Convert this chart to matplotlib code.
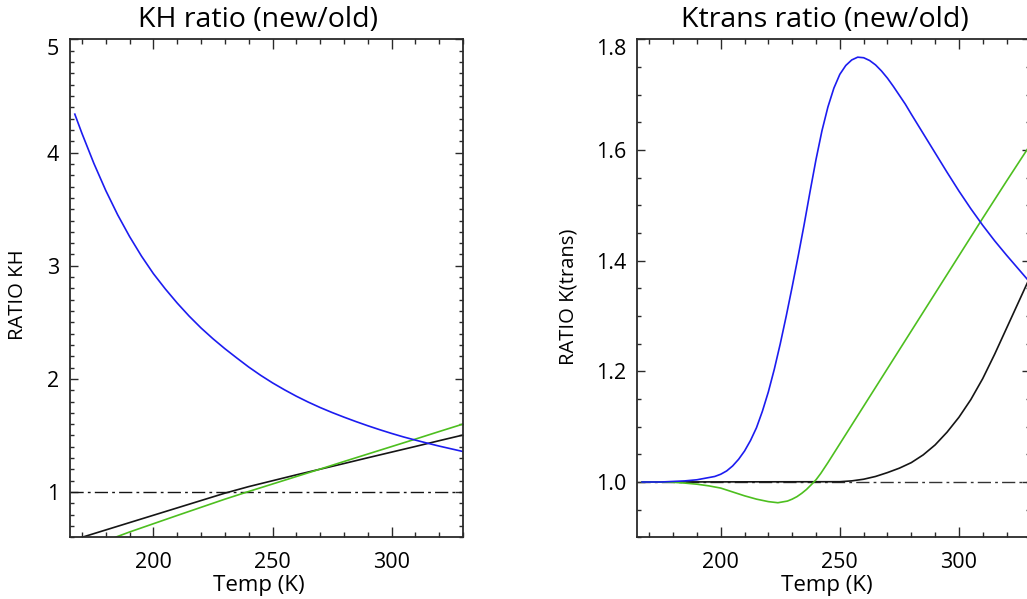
import matplotlib
matplotlib.use('Agg')
import matplotlib.pyplot as plt
from matplotlib.ticker import MultipleLocator

plt.rcParams['font.family'] = ['Open Sans', 'DejaVu Sans']

# ---- KH ratio (new/old) ----
kh_temp_blue = [167, 170, 175, 180, 185, 190, 195, 200, 205, 210, 215, 220, 225, 230,
                235, 240, 245, 250, 255, 260, 265, 270, 275, 280, 285, 290, 295, 300,
                305, 310, 315, 320, 325, 330]
kh_blue = [4.34, 4.17, 3.905, 3.665, 3.45, 3.258, 3.085, 2.93, 2.795, 2.67, 2.555, 2.45, 2.355, 2.267,
           2.185, 2.105, 2.032, 1.965, 1.904, 1.847, 1.795, 1.747, 1.703, 1.662, 1.623, 1.586, 1.551, 1.518,
           1.487, 1.459, 1.432, 1.406, 1.382, 1.358]

kh_temp_black = [170, 180, 190, 200, 210, 220, 230, 240, 250, 260, 270, 280, 290, 300, 310, 320, 330]
kh_black = [0.60, 0.665, 0.73, 0.795, 0.86, 0.925, 0.99, 1.048, 1.10, 1.152, 1.202, 1.252,
            1.303, 1.353, 1.403, 1.454, 1.504]

kh_temp_green = [184, 190, 200, 210, 220, 230, 240, 250, 260, 270, 280, 290, 300, 310, 320, 330]
kh_green = [0.60, 0.647, 0.72, 0.793, 0.865, 0.937, 1.005, 1.071, 1.137, 1.203, 1.27, 1.336,
            1.402, 1.468, 1.535, 1.601]

# ---- Ktrans ratio (new/old) ----
kt_temp_blue = [167, 170, 175, 180, 185, 190, 195, 197.5, 200, 202.5, 205, 207.5, 210, 212.5,
                215, 217.5, 220, 222.5, 225, 227.5, 230, 232.5, 235, 237.5, 240, 242.5, 245,
                247.5, 250, 252.5, 255, 257.5, 260, 262.5, 265, 267.5, 270, 272.5, 275, 277.5,
                280, 285, 290, 295, 300, 305, 310, 315, 320, 325, 330]
kt_blue = [1.0, 1.0, 1.0, 1.001, 1.002, 1.004, 1.008, 1.010, 1.014, 1.02, 1.029, 1.041, 1.056, 1.075,
           1.098, 1.128, 1.163, 1.204, 1.25, 1.30, 1.353, 1.408, 1.465, 1.525, 1.583, 1.635, 1.678,
           1.712, 1.737, 1.753, 1.763, 1.768, 1.767, 1.762, 1.754, 1.743, 1.73, 1.715, 1.699, 1.683,
           1.665, 1.63, 1.595, 1.56, 1.526, 1.494, 1.464, 1.436, 1.41, 1.385, 1.36]

kt_temp_green = [167, 175, 180, 185, 190, 195, 200, 205, 210, 215, 220, 224, 228, 230, 232, 234,
                 236, 238, 240, 242, 245, 250, 260, 270, 280, 290, 300, 310, 320, 330]
kt_green = [1.0, 1.0, 0.9995, 0.998, 0.996, 0.993, 0.989, 0.982, 0.975, 0.969, 0.9645, 0.9625,
            0.9655, 0.969, 0.9735, 0.9795, 0.9865, 0.995, 1.004, 1.0155, 1.035, 1.069, 1.137,
            1.205, 1.273, 1.341, 1.409, 1.477, 1.544, 1.61]

kt_temp_black = [167, 250, 255, 260, 265, 270, 275, 280, 285, 290, 295, 300, 305, 310, 315,
                 320, 325, 330]
kt_black = [1.0, 1.0005, 1.002, 1.005, 1.01, 1.017, 1.025, 1.035, 1.049, 1.067, 1.09, 1.117,
            1.149, 1.187, 1.231, 1.278, 1.325, 1.372]

BLUE = '#1c1cf0'
GREEN = '#4dbf1f'
BLACK = '#151515'
AXC = '#2a2a2a'


def setup(ax, ylim, yticks, yminor, title, ylabel, ylab_xy):
    ax.set_xlim(165, 330)
    ax.set_ylim(*ylim)
    ax.set_xticks([200, 250, 300])
    ax.xaxis.set_minor_locator(MultipleLocator(10))
    ax.set_yticks(yticks)
    ax.yaxis.set_minor_locator(MultipleLocator(yminor))
    for s in ax.spines.values():
        s.set_linewidth(1.3)
        s.set_color(AXC)
    ax.tick_params(which='both', direction='in', top=True, right=True,
                   color=AXC, width=1.0, labelsize=15.5)
    ax.tick_params(axis='x', which='major', length=7.2, pad=10.5)
    ax.tick_params(axis='x', which='minor', length=3.6)
    ax.tick_params(axis='y', which='major', length=5.7, pad=8)
    ax.tick_params(axis='y', which='minor', length=2.8)
    # top label sits below the axis line
    ax.get_yticklabels()[-1].set_va('top')
    ax.set_title(title, x=0.477, y=1.0, pad=9, fontsize=20.5)
    ax.set_xlabel('Temp (K)', fontsize=16)
    ax.xaxis.set_label_coords(0.481, -0.076)
    ax.set_ylabel(ylabel, fontsize=14.6)
    ax.yaxis.set_label_coords(*ylab_xy)


fig = plt.figure(figsize=(10.27, 5.99), dpi=100)
ax1 = fig.add_axes([0.0682, 0.1030, 0.3827, 0.8311])
ax2 = fig.add_axes([0.6206, 0.1030, 0.3827, 0.8311])

ax1.axhline(1.0, color=BLACK, lw=1.0, linestyle=(0, (9.5, 3, 2, 3)))
ax1.plot(kh_temp_black, kh_black, color=BLACK, lw=1.2)
ax1.plot(kh_temp_green, kh_green, color=GREEN, lw=1.2)
ax1.plot(kh_temp_blue, kh_blue, color=BLUE, lw=1.2)
setup(ax1, (0.6, 5.0), [1, 2, 3, 4, 5], 0.1, 'KH ratio (new/old)', 'RATIO KH',
      (-0.106, 0.487))

ax2.axhline(1.0, color='#333333', lw=1.0, linestyle=(0, (9.5, 3, 2, 3)))
ax2.plot(kt_temp_black, kt_black, color=BLACK, lw=1.2)
ax2.plot(kt_temp_green, kt_green, color=GREEN, lw=1.2)
ax2.plot(kt_temp_blue, kt_blue, color=BLUE, lw=1.2)
setup(ax2, (0.9, 1.8), [1.0, 1.2, 1.4, 1.6, 1.8], 0.05, 'Ktrans ratio (new/old)',
      'RATIO K(trans)', (-0.150, 0.484))

fig.savefig('out.png', dpi=100)
